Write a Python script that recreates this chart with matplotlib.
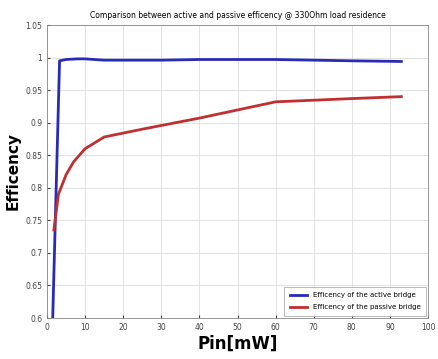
import numpy as np
import matplotlib.pyplot as plt

# values
pin_active = np.array([1.5, 3.3, 5, 8, 10, 15, 20, 30, 40, 50, 60, 70, 80, 93])
eff_active = np.array([0.6, 0.995, 0.997, 0.998, 0.998, 0.996, 0.996, 0.996,
                       0.997, 0.997, 0.997, 0.996, 0.995, 0.994])

pin_passive = np.array([1.8, 3, 5, 7, 10, 15, 25, 40, 60, 80, 93])
eff_passive = np.array([0.735, 0.79, 0.82, 0.84, 0.86, 0.878, 0.89, 0.907,
                        0.932, 0.937, 0.94])

xticks = np.arange(0, 101, 10)
yticks = np.arange(0.6, 1.051, 0.05)
ytick_labels = ['0.6', '0.65', '0.7', '0.75', '0.8', '0.85', '0.9', '0.95', '1', '1.05']

fig = plt.figure(figsize=(4.38, 3.59), dpi=100)
ax = fig.add_axes([47/438, 1 - 318/359, (428-47)/438, (318-25)/359])

ax.plot(pin_active, eff_active, color='#2a2ab8', lw=2, label='Efficency of the active bridge')
ax.plot(pin_passive, eff_passive, color='#c03030', lw=2, label='Efficency of the passive bridge')

ax.set_xlim(0, 100)
ax.set_ylim(0.6, 1.05)
ax.set_xticks(xticks)
ax.set_yticks(yticks)
ax.set_yticklabels(ytick_labels)
ax.tick_params(labelsize=5.5, length=2, direction='in', colors='#444444')
ax.grid(True, color='#dddddd', lw=0.6)
for s in ax.spines.values():
    s.set_color('#888888')
    s.set_linewidth(0.6)

ax.set_title('Comparison between active and passive efficency @ 330Ohm load residence',
             fontsize=5.5, pad=5)
ax.set_xlabel('Pin[mW]', fontsize=12, fontweight='bold', labelpad=2)
ax.set_ylabel('Efficency', fontsize=11, fontweight='bold', labelpad=3)

leg = ax.legend(loc='lower right', fontsize=5, frameon=True, fancybox=False,
                handlelength=2.5, borderpad=0.8, labelspacing=0.9,
                borderaxespad=0.3)
leg.get_frame().set_edgecolor('#999999')
leg.get_frame().set_linewidth(0.6)

fig.savefig('out.png', dpi=100)
